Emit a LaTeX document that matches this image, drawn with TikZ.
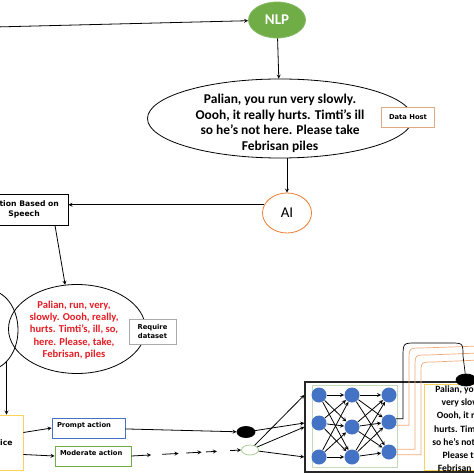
\documentclass[tikz,border=0pt]{standalone}
\usepackage{fontspec}
\setmainfont{Carlito}
\newfontfamily\boxfont{DejaVu Sans}
\usepackage{xcolor}
\definecolor{leafgreen}{RGB}{112,173,71}
\definecolor{pumpkin}{RGB}{237,125,49}
\definecolor{peach}{RGB}{240,170,120}
\definecolor{tanline}{RGB}{222,170,130}
\definecolor{steelblue}{RGB}{68,114,196}
\definecolor{amber}{RGB}{255,210,90}
\definecolor{ashgrey}{RGB}{170,170,170}
\definecolor{mintline}{RGB}{197,218,185}
\definecolor{storyred}{RGB}{228,28,36}
\usepackage{tikz}
\usetikzlibrary{shapes.geometric,calc}

\tikzset{
  ell/.style={ellipse, draw, inner sep=0pt},
  tag/.style={draw, fill=white, align=center, inner sep=0pt,
    font=\boxfont\bfseries\fontsize{6.8}{9}\selectfont},
  neuron/.style={circle, fill=steelblue, minimum size=15bp, inner sep=0pt},
}

\begin{document}
\begin{tikzpicture}[x=1bp,y=-1bp,>=stealth,line width=0.8pt]
  \useasboundingbox (0,0) rectangle (474,474);
  \clip (0,0) rectangle (474,474);

  \node[ell, fill=leafgreen, draw=leafgreen!85!white, minimum width=57bp, minimum height=36bp,
    text=white, font=\bfseries\fontsize{15}{18}\selectfont] (nlp) at (277,20) {NLP};
  \coordinate (feed) at (-5,27);
  \path[draw, ->] (feed) -- (nlp);

  \node[ell, minimum width=265bp, minimum height=79bp] (story) at (280,118.5) {};
  \node[align=center, font=\bfseries\fontsize{13.5}{15.7}\selectfont] (storytxt) at (280,123.5)
    {Palian, you run very slowly.\\Oooh, it really hurts. Timti's ill\\so he's not here. Please take\\Febrisan piles};
  \node[tag, draw=tanline, minimum width=53bp, minimum height=20bp] (host) at (408,117) {Data Host};
  \path[draw, ->] (nlp) -- (story);

  \node[ell, draw=pumpkin, minimum width=49bp, minimum height=40bp,
    font=\fontsize{15}{18}\selectfont] (ai) at (287,213) {AI};
  \path[draw, ->] (story.south -| ai) -- (ai);

  \node[tag, draw=black, minimum width=88bp, minimum height=31bp,
    font=\boxfont\bfseries\fontsize{7.7}{10.5}\selectfont] (act) at (24,209.5) {Action Based on\\Speech};
  \path[draw, ->] (ai.160) -- (act.east |- ai.160);

  % second level
  \node[ell, minimum width=60bp, minimum height=80bp] (mic) at (-12,330) {};
  \node[ell, minimum width=137bp, minimum height=89bp] (tok) at (77,329) {};
  \node[align=center, text=storyred, font=\bfseries\fontsize{10.6}{12.2}\selectfont] (toktxt) at (74,330)
    {Palian, run, very,\\slowly. Oooh, really,\\hurts. Timti's, ill, so,\\here. Please, take,\\Febrisan, piles};
  \node[tag, draw=ashgrey, minimum width=47bp, minimum height=25bp] (req) at (152.5,331.5) {Require\\dataset};
  \path[draw, ->] ([xshift=31bp]act.south) -- (tok.105);

  \node[tag, draw=amber, minimum width=44bp, minimum height=55bp,
    font=\boxfont\bfseries\fontsize{7.7}{10}\selectfont] (voice) at (1,442.5) {Voice};
  \path[draw, ->] (mic.300) -- (mic.300 |- voice.north);

  \node[tag, draw=steelblue, minimum width=73bp, minimum height=20bp, text width=63bp,
    align=left, text height=6bp, text depth=8bp] (prompt) at (88.5,428) {Prompt action};
  \node[tag, draw=leafgreen, minimum width=76bp, minimum height=20bp, text width=66bp,
    align=left, text height=6bp, text depth=8bp] (moder) at (93,456) {Moderate action};
  \path[draw, ->] ([yshift=10bp]voice.east) -- (prompt.west);
  \path[draw, ->] ([yshift=-12bp]voice.east) -- (moder.west);

  \node[ell, fill=black, minimum width=18bp, minimum height=11bp] (bdot) at (246,432) {};
  \node[ell, draw=leafgreen!60!white, fill=white, minimum width=17bp, minimum height=10bp] (wdot) at (250,450) {};
  \path[draw, ->] (prompt) -- (bdot);
  \foreach \a/\b in {0/0.18,0.28/0.43,0.5/0.64,0.68/0.78,0.9/1}
    \path[draw, ->] ($(moder.east)!\a!(wdot.west)$) -- ($(moder.east)!\b!(wdot.west)$);

  % network block
  \node[draw=black!85, line width=1.3pt, minimum width=200bp, minimum height=90bp, inner sep=0pt] (net) at (405,427) {};
  \node[draw=mintline, minimum width=85bp, minimum height=82bp, inner sep=0pt] (frame) at (354.5,426) {};
  \node[draw=amber, minimum width=82bp, minimum height=86bp, inner sep=0pt] (ans) at (465,427) {};
  \node[align=center, font=\bfseries\fontsize{9.6}{13.3}\selectfont] (anstxt) at (465,429.5)
    {Palian, you run\\very slowly.\\Oooh, it really\\hurts. Timti's ill\\so he's not here.\\Please take\\Febrisan piles};

  \foreach \n/\x/\y in {11/319/395,12/319/423,13/319/457,21/352/395,22/352/427,23/352/457,31/389/395,32/389/422,33/389/452}
    \node[neuron] (n\n) at (\x,\y) {};
  \foreach \i in {1,2,3}
    \foreach \j in {1,2,3} {
      \path[draw, ->] (n1\i) -- (n2\j);
      \path[draw, ->] (n2\i) -- (n3\j);
    }

  \path[draw, ->] (wdot) -- (net.west |- n11);
  \path[draw, ->] (bdot) -- (net.west |- n12);
  \path[draw, ->] (wdot) -- (net.west |- n22);
  \path[draw, ->] (wdot) -- (net.west |- n13);

  \node[ell, fill=black, minimum width=20bp, minimum height=12bp] (tdot) at (466,380) {};
  \coordinate (off1) at (480,346);
  \coordinate (off2) at (480,353);
  \coordinate (off3) at (480,360);
  \path[draw, peach, line width=0.7pt] (n32.-25) -| (409,362) .. controls (409,348) .. (421,348) -- (off1);
  \path[draw, peach, line width=0.7pt] (n33.20) -| (415,368) .. controls (415,355) .. (427,355) -- (off2);
  \path[draw, peach, line width=0.7pt] (n33.-20) -| (421,374) .. controls (421,362) .. (433,362) -- (off3);
  \path[draw, line width=0.7pt] (n32.25) -| (403,358) .. controls (403,343) .. (416,343)
    -- (450,343) .. controls (463,343) .. (463,356) -- (tdot);
\end{tikzpicture}
\end{document}
